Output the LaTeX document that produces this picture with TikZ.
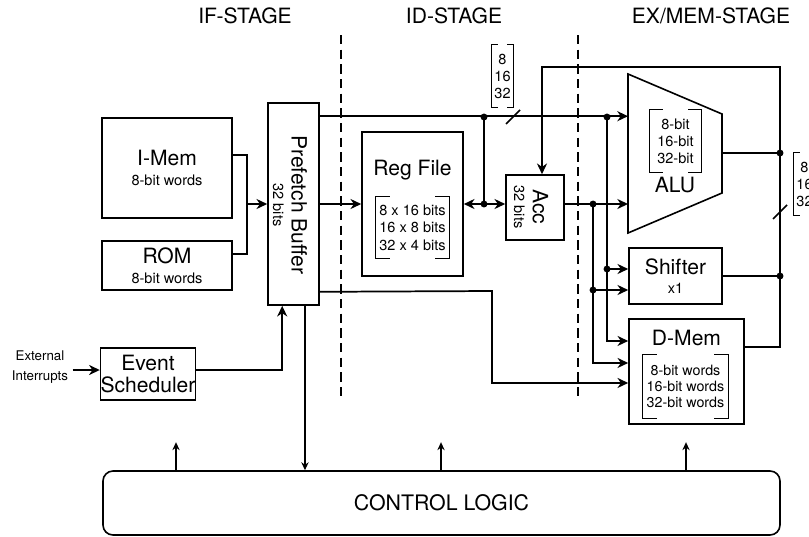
\documentclass[tikz,border=0pt]{standalone}
\usepackage{fontspec}
\setmainfont{TeX Gyre Heros}
\usepackage{tikz}
\usetikzlibrary{arrows.meta,calc}
\newcommand{\smtxt}{\fontsize{10.9}{13.1}\selectfont}
\newcommand{\bigtxt}{\fontsize{15.8}{18}\selectfont}
% brackets round a node: #1 node, #2 tick length
\newcommand{\brk}[2]{%
  \draw[brkline] ([xshift=#2]#1.north west) -- (#1.north west) -- (#1.south west) -- ([xshift=#2]#1.south west);
  \draw[brkline] ([xshift=-#2]#1.north east) -- (#1.north east) -- (#1.south east) -- ([xshift=-#2]#1.south east);}
\tikzset{
  blk/.style={draw,line width=1.2pt,inner sep=0pt,align=center,font=\bigtxt},
  ln/.style={line width=1.3pt},
  ar/.style={-{Stealth[length=8pt,width=7.5pt,inset=2.5pt]},line width=1.3pt},
  arc/.style={-{Stealth[length=6pt,width=5.5pt,inset=2pt]},line width=0.9pt},
  brkline/.style={line width=1.1pt},
  bits/.style={inner sep=0pt,align=center,font=\smtxt},
  stagesep/.style={line width=2.2pt,dash pattern=on 7pt off 4pt}
}

\begin{document}
\begin{tikzpicture}[x=0.75pt,y=-0.75pt]
\useasboundingbox (0,0) rectangle (809,536);
\clip (0,0) rectangle (809,536);
% stages
\node[font=\bigtxt] (ifst) at (245,16) {IF-STAGE};
\node[font=\bigtxt] (idst) at (454,16) {ID-STAGE};
\node[font=\bigtxt] (exst) at (711,16) {EX/MEM-STAGE};
\draw[stagesep] (341,35) -- (341,398);
\draw[stagesep] (578,35) -- (578,398);

% IF stage blocks
\node[blk,minimum width=97.5pt,minimum height=75pt] (imem) at (167,168) {I-Mem\\[-3pt]{\smtxt 8-bit words}};
\node[blk,minimum width=97.5pt,minimum height=36.75pt] (rom) at (167,265.5) {ROM\\[-3pt]{\smtxt 8-bit words}};
\node[blk,minimum width=69pt,minimum height=39pt] (evsch) at (148,374) {Event\\[-2pt]Scheduler};
\node[align=center,font=\fontsize{10}{15}\selectfont] (ext) at (40,367) {External\\Interrupts};
\node[blk,minimum width=38.25pt,minimum height=151.5pt] (pfb) at (293.5,204) {};
\node[rotate=-90,align=center,font=\bigtxt] (pfbtxt) at (290,205) {Prefetch Buffer\\[-4pt]{\smtxt 32 bits}};

% ID stage blocks
\node[blk,minimum width=75.75pt,minimum height=108pt] (regf) at (412.5,204) {};
\node[font=\bigtxt] (rftxt) at (412.5,170) {Reg File};
\node[bits,minimum width=54.75pt,minimum height=45.75pt] (rfbits) at (412.5,227.5) {8 x 16 bits\\16 x 8 bits\\32 x 4 bits};
\brk{rfbits}{10.5pt}
\node[blk,minimum width=43.5pt,minimum height=48.75pt] (acc) at (535,207.5) {};
\node[rotate=-90,align=center,font=\bigtxt] (acctxt) at (531,207) {Acc\\[-4pt]{\smtxt 32 bits}};
\node[bits,minimum width=15.75pt,minimum height=46.5pt,font=\fontsize{10.9}{12.75}\selectfont] (topw) at (502.5,76) {8\\16\\32};
\brk{topw}{4.5pt}

% EX/MEM stage blocks
\draw[blk] (628,74) coordinate (alutl) -- (722,114) coordinate (alutr) -- (722,193) coordinate (alubr) -- (628,233) coordinate (alubl) -- cycle;
\node[font=\bigtxt] (alutxt) at (675,185.5) {ALU};
\node[bits,minimum width=38.25pt,minimum height=46.5pt,font=\fontsize{10.9}{12.75}\selectfont] (alubits) at (675.5,141) {8-bit\\16-bit\\32-bit};
\brk{alubits}{9.75pt}
\node[blk,minimum width=69.75pt,minimum height=42pt] (shft) at (675.5,276) {Shifter\\[-4pt]{\smtxt x1}};
\node[blk,minimum width=86.25pt,minimum height=78.75pt] (dmem) at (686.5,371.5) {};
\node[font=\bigtxt] (dmtxt) at (686.5,338) {D-Mem};
\node[bits,minimum width=63.75pt,minimum height=47.25pt,font=\fontsize{10.7}{12}\selectfont] (dmbits) at (685.5,386.5) {8-bit words\\16-bit words\\32-bit words};
\brk{dmbits}{10.5pt}
\node[bits,minimum width=15.75pt,minimum height=46.5pt,font=\fontsize{10.9}{12.75}\selectfont] (rightw) at (804.5,184) {8\\16\\32};
\brk{rightw}{4.5pt}

\node[draw,line width=1.2pt,rounded corners=7.5pt,minimum width=507.75pt,minimum height=48pt,font=\fontsize{16}{18}\selectfont] (ctrl) at (441.5,503) {CONTROL LOGIC};

% IF connections
\coordinate (imj) at (247,204);
\draw[ln] ([yshift=9.75pt]imem.east) -| (imj) |- ([yshift=8.6pt]rom.east);
\draw[ar] (imj) -- (imj -| pfb.west);
\coordinate (evin) at ([yshift=3pt]evsch.west);
\coordinate (evout) at ([yshift=3pt]evsch.east);
\draw[ar] (ext.east |- evin) -- (evin);
\draw[ar] (evout) -| ([xshift=11.25pt]pfb.south west);
\coordinate (pfbdn) at ([xshift=8.6pt]pfb.south);
\draw[arc] (pfbdn) -- (pfbdn |- ctrl.north);
\draw[ar] (pfb.east) -- (regf.west);

% main bus
\coordinate (busl) at ([yshift=-10.5pt]pfb.north east);
\coordinate (bj1) at (484,117);
\coordinate (bj2) at (607,117);
\draw[ar] (busl) -- (busl -| alutl);
\draw[ln] (513,117) ++(-7,7) -- ++(14,-14);
\draw[ln] (bj1) -- (bj1 |- regf.east);
\draw[{Stealth[length=8pt,width=7.5pt,inset=2.5pt]}-{Stealth[length=8pt,width=7.5pt,inset=2.5pt]},line width=1.3pt] (regf.east) -- (regf.east -| acc.west);
\coordinate (accout) at (acc.east |- regf.east);
\coordinate (aj) at (593,204);
\draw[ar] (accout) -- (accout -| alutl);

% to shifter and D-Mem
\coordinate (sh1) at ([yshift=5.25pt]shft.west);
\coordinate (sh2) at ([yshift=-10.5pt]shft.west);
\coordinate (dm1) at ([yshift=22.9pt]dmem.west);
\coordinate (dm2) at ([yshift=6.4pt]dmem.west);
\coordinate (dm3) at ([yshift=-8.6pt]dmem.west);
\draw[ar] (bj2) |- (dm1);
\draw[ar] (bj2 |- sh1) -- (sh1);
\draw[ar] (aj) |- (dm2);
\draw[ar] (aj |- sh2) -- (sh2);
\coordinate (pfbr) at ([yshift=10.5pt]pfb.south east);
\coordinate (dmbend) at (492,291);
\draw[ar] (pfbr) -- (dmbend) |- (dm3);

% outputs and feedback to Acc
\coordinate (oj1) at (780,153);
\coordinate (fbk) at (542,67);
\coordinate (dmout) at ([yshift=18.4pt]dmem.east);
\draw[ln] (alutr |- oj1) -- (oj1);
\draw[ln] (shft.east) -- (shft.east -| oj1);
\draw[ar] (dmout) -| (fbk -| oj1) -- (fbk) -- (fbk |- acc.north);
\draw[ln] (780,212) ++(-7,7) -- ++(14,-14);

\fill (bj1) circle (2.6pt) (bj1 |- regf.east) circle (2.6pt) (bj2) circle (2.6pt) (aj) circle (2.6pt);
\fill (bj2 |- sh1) circle (2.6pt) (aj |- sh2) circle (2.6pt) (oj1) circle (2.6pt) (shft.east -| oj1) circle (2.6pt);

% control
\foreach \cx in {176,441,686} \draw[arc] (\cx,0 |- ctrl.north) -- ++(0,-28);
\end{tikzpicture}
\end{document}
